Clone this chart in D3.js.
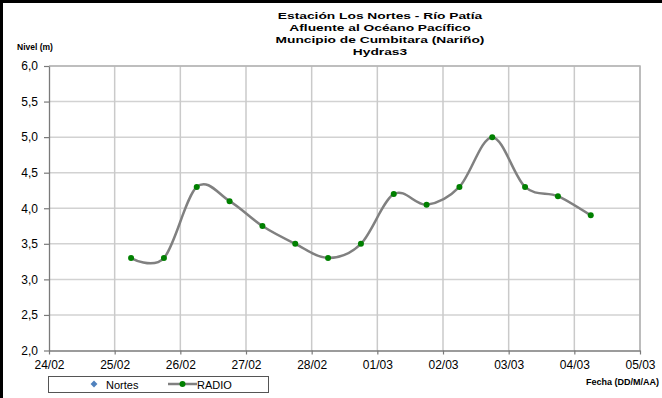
<!DOCTYPE html>
<html>
<head>
<meta charset="utf-8">
<script src="https://cdn.jsdelivr.net/npm/d3@7"></script>
<style>
  body { margin: 0; background: #fff; }
  svg { display: block; font-family: Arial, "Liberation Sans", sans-serif; }
</style>
</head>
<body>
<div id="chart"></div>
<script>
// lecturas cada 12 horas
const fechas = [
    "2009-02-25T06:00", "2009-02-25T18:00", "2009-02-26T06:00", "2009-02-26T18:00",
    "2009-02-27T06:00", "2009-02-27T18:00", "2009-02-28T06:00", "2009-02-28T18:00",
    "2009-03-01T06:00", "2009-03-01T18:00", "2009-03-02T06:00", "2009-03-02T18:00",
    "2009-03-03T06:00", "2009-03-03T18:00", "2009-03-04T06:00"
];
const nivelRadio = [3.3, 3.3, 4.3, 4.1, 3.75, 3.5, 3.3, 3.5, 4.2, 4.05, 4.3, 5.0, 4.3, 4.17, 3.9];
const diasTicks = [
    "2009-02-24", "2009-02-25", "2009-02-26", "2009-02-27", "2009-02-28",
    "2009-03-01", "2009-03-02", "2009-03-03", "2009-03-04", "2009-03-05"
];
const nivelTicks = [2.0, 2.5, 3.0, 3.5, 4.0, 4.5, 5.0, 5.5, 6.0];
const titulo = [
    "Estación Los Nortes  - Río Patía",
    "Afluente al Océano Pacífico",
    "Muncipio de Cumbitara (Nariño)",
    "Hydras3"
];
const series = ["Nortes", "RADIO"];

const W = 662, H = 398;
const plot = { left: 49, right: 640, top: 66, bottom: 350.5 };

const parseT = d3.timeParse("%Y-%m-%dT%H:%M");
const parseD = d3.timeParse("%Y-%m-%d");
const data = fechas.map((f, i) => ({ time: parseT(f), value: nivelRadio[i] }));
const ticksX = diasTicks.map(parseD);

const es = d3.formatLocale({ decimal: ",", thousands: ".", grouping: [3], currency: ["$", ""] });

const svg = d3.select("#chart").append("svg")
    .attr("width", W)
    .attr("height", H);

const xScale = d3.scaleTime()
    .domain(d3.extent(ticksX))
    .range([plot.left, plot.right]);

const yScale = d3.scaleLinear()
    .domain([2, 6])
    .range([plot.bottom, plot.top]);

// rejilla
svg.append("g")
    .selectAll("line")
    .data(nivelTicks.slice(1))
    .join("line")
    .attr("x1", plot.left).attr("x2", plot.right)
    .attr("y1", d => yScale(d)).attr("y2", d => yScale(d))
    .attr("stroke", "#d2d2d2")
    .attr("stroke-width", 1.5);

svg.append("g")
    .selectAll("line")
    .data(ticksX.slice(1))
    .join("line")
    .attr("x1", d => xScale(d)).attr("x2", d => xScale(d))
    .attr("y1", plot.top).attr("y2", plot.bottom)
    .attr("stroke", "#cacaca")
    .attr("stroke-width", 1.5);

// borde derecho / superior del area
svg.append("path")
    .attr("d", `M${plot.left},${plot.top}H${plot.right}V${plot.bottom}`)
    .attr("fill", "none")
    .attr("stroke", "#b4b4b4")
    .attr("stroke-width", 1.5);

const xAxis = svg.append("g")
    .attr("transform", `translate(0,${plot.bottom})`)
    .call(d3.axisBottom(xScale).tickValues(ticksX).tickFormat(d3.timeFormat("%d/%m")).tickSize(4).tickSizeOuter(0));

const yAxis = svg.append("g")
    .attr("transform", `translate(${plot.left},0)`)
    .call(d3.axisLeft(yScale).tickValues(nivelTicks).tickFormat(es.format(".1f")).tickSize(5).tickSizeOuter(0));

[xAxis, yAxis].forEach(g => {
    g.select(".domain").attr("stroke", "#7a7a7a").attr("stroke-width", 1.3);
    g.selectAll(".tick line").attr("stroke", "#7a7a7a").attr("stroke-width", 1.2);
    g.selectAll("text")
        .attr("font-family", "Arial, 'Liberation Sans', sans-serif")
        .attr("font-size", "12px")
        .attr("fill", "#000");
});
xAxis.selectAll("text").attr("dy", null).attr("y", 18.5);
yAxis.selectAll("text").attr("x", -11);

// serie
const line = d3.line()
    .x(d => xScale(d.time))
    .y(d => yScale(d.value))
    .curve(d3.curveCardinal.tension(0));

svg.append("path")
    .attr("d", line(data))
    .attr("fill", "none")
    .attr("stroke", "#808080")
    .attr("stroke-width", 2.5);

svg.selectAll("circle.pt")
    .data(data)
    .join("circle")
    .attr("class", "pt")
    .attr("r", 3)
    .attr("fill", "#008000")
    .attr("cx", d => xScale(d.time))
    .attr("cy", d => yScale(d.value));

// titulo (texto ensanchado)
const tg = svg.append("g")
    .attr("transform", "translate(380,0) scale(1.45,1)");
tg.selectAll("text")
    .data(titulo)
    .join("text")
    .attr("x", 0)
    .attr("y", (d, i) => 19.5 + i * 12)
    .attr("text-anchor", "middle")
    .attr("font-weight", "bold")
    .attr("font-size", "9.5px")
    .text(d => d);

svg.append("text")
    .attr("x", 17).attr("y", 49.5)
    .attr("font-weight", "bold")
    .attr("font-size", "8.5px")
    .text("Nivel (m)");

svg.append("text")
    .attr("x", 659).attr("y", 385)
    .attr("text-anchor", "end")
    .attr("font-weight", "bold")
    .attr("font-size", "9px")
    .text("Fecha (DD/M/AA)");

// leyenda
const lg = svg.append("g");
lg.append("rect")
    .attr("x", 48.5).attr("y", 376.5)
    .attr("width", 220).attr("height", 16)
    .attr("fill", "#fff")
    .attr("stroke", "#555")
    .attr("stroke-width", 1);
lg.append("path")
    .attr("d", d3.symbol(d3.symbolDiamond2, 30)())
    .attr("transform", "translate(94,384)")
    .attr("fill", "#4f81bd");
lg.append("text")
    .attr("x", 106).attr("y", 388.5)
    .attr("font-size", "11px")
    .text(series[0]);
lg.append("line")
    .attr("x1", 168).attr("x2", 197)
    .attr("y1", 384).attr("y2", 384)
    .attr("stroke", "#808080")
    .attr("stroke-width", 2.5);
lg.append("circle")
    .attr("cx", 182.5).attr("cy", 384).attr("r", 3)
    .attr("fill", "#008000");
lg.append("text")
    .attr("x", 197).attr("y", 388.5)
    .attr("font-size", "11px")
    .text(series[1]);

// marco exterior
svg.append("path")
    .attr("d", `M1.5,${H}V1.5H${W}`)
    .attr("fill", "none")
    .attr("stroke", "#000")
    .attr("stroke-width", 3);
</script>
</body>
</html>
